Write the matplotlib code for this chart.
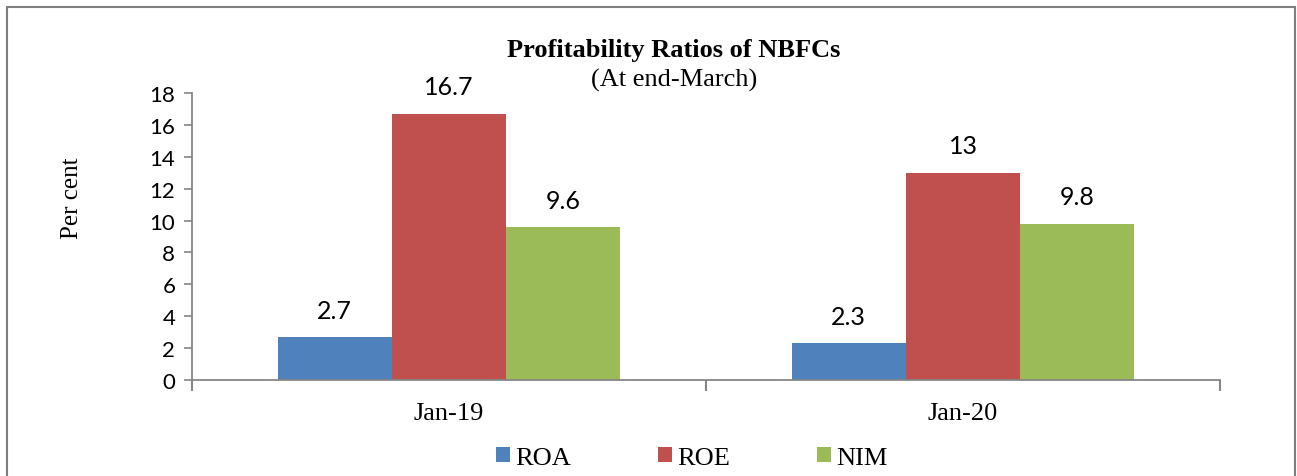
import matplotlib
matplotlib.use("Agg")
import matplotlib.pyplot as plt
from matplotlib.patches import Rectangle
import numpy as np

categories = ["Jan-19", "Jan-20"]
series_names = ["ROA", "ROE", "NIM"]
roa = [2.7, 2.3]
roe = [16.7, 13.0]
nim = [9.6, 9.8]
value_labels = [["2.7", "2.3"], ["16.7", "13"], ["9.6", "9.8"]]
y_ticks = [0, 2, 4, 6, 8, 10, 12, 14, 16, 18]

colors = ["#4F81BD", "#C0504D", "#9BBB59"]
W, H = 1297, 477
fig = plt.figure(figsize=(W / 100, H / 100), dpi=100)
ax = fig.add_axes([192 / W, 1 - 381 / H, (1220 - 192) / W, (381 - 94) / H])

serif = "Liberation Serif"
sans = "Lato"
x = np.arange(len(categories))
bw = 1 / 4.5
data = [roa, roe, nim]
for i, (vals, name) in enumerate(zip(data, series_names)):
    bars = ax.bar(x + (i - 1) * bw, vals, width=bw, color=colors[i], label=name, zorder=2)
    for b, lab in zip(bars, value_labels[i]):
        ax.annotate(lab, (b.get_x() + b.get_width() / 2, b.get_height()),
                    xytext=(0, 11), textcoords="offset points", ha="center", va="bottom",
                    fontsize=18, family=sans)

ax.set_xlim(-0.5, len(categories) - 0.5)
ax.set_ylim(0, 18)
ax.set_yticks(y_ticks)
ax.set_yticklabels([str(t) for t in y_ticks], fontsize=16, family=sans)
ax.set_xticks(x)
ax.set_xticklabels(categories, fontsize=19, family=serif)
ax.tick_params(axis="x", length=0, pad=16)
ax.tick_params(axis="y", length=6, color="#868686", width=1.2, pad=6)
# category boundary ticks
ax.set_xticks(np.arange(-0.5, len(categories), 1.0), minor=True)
ax.tick_params(axis="x", which="minor", length=8, color="#868686", width=1.5)
for s in ["top", "right"]:
    ax.spines[s].set_visible(False)
for s in ["left", "bottom"]:
    ax.spines[s].set_color("#868686")
    ax.spines[s].set_linewidth(1.3)
ax.set_ylabel("Per cent", fontsize=18, family=serif)
ax.yaxis.set_label_coords(-0.106, 0.638)

fig.text(674 / W, 1 - 50 / H, "Profitability Ratios of NBFCs", ha="center", va="center",
         fontsize=19, fontweight="bold", family=serif)
fig.text(674 / W, 1 - 80 / H, "(At end-March)", ha="center", va="center",
         fontsize=19, family=serif)

leg = fig.legend(loc="center", bbox_to_anchor=(692 / W, 1 - 459 / H), ncol=3, frameon=False,
                 prop={"family": serif, "size": 19}, handlelength=0.53, handleheight=0.53,
                 handletextpad=0.2, columnspacing=3.3, borderpad=0)

fig.add_artist(Rectangle((7 / W, -0.05), (1295 - 7) / W, 1.05 - 8 / H, transform=fig.transFigure,
                         fill=False, edgecolor="#7F7F7F", linewidth=1.5))

fig.savefig("out.png", dpi=100)
